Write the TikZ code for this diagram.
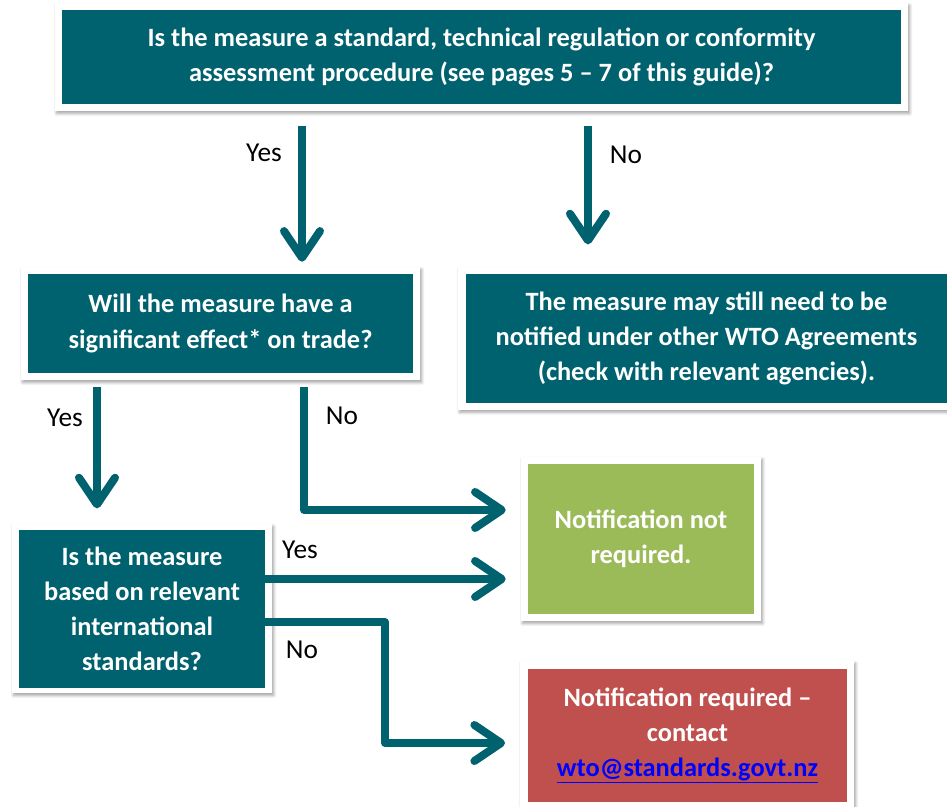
\documentclass[tikz,border=0pt]{standalone}
\usepackage{fontspec}
\setmainfont{Carlito}
\usetikzlibrary{arrows.meta,shadows.blur,backgrounds}
\definecolor{wtoteal}{RGB}{0,98,111}
\definecolor{wtogreen}{RGB}{155,187,89}
\definecolor{wtored}{RGB}{192,80,77}
\definecolor{wtolink}{RGB}{0,0,255}
\tikzset{
  box/.style 2 args={inner sep=0pt, align=center, text=white,
    font=\fontsize{19.8}{26.3}\selectfont\bfseries,
    minimum width=#1*0.75pt, minimum height=#2*0.75pt},
  tealbox/.style={fill=wtoteal},
  greenbox/.style={fill=wtogreen},
  redbox/.style={fill=wtored},
  lab/.style={inner sep=0pt, font=\fontsize{20.5}{24}\selectfont, text=black},
  frame/.style={fill=white, blur shadow={shadow xshift=1.2pt, shadow yshift=-1.8pt,
    shadow blur steps=6, shadow blur radius=2pt, shadow opacity=35}},
  conn/.style={draw=wtoteal, line width=6pt, line join=round,
    -{Straight Barb[length=20pt, width=27pt, round]}},
}
\begin{document}
\begin{tikzpicture}[x=0.75pt, y=-0.75pt]
\useasboundingbox (0,0) rectangle (947,807);

% boxes
\node[box={839}{94}, tealbox] (q1) at (481.5,57)
  {Is the measure a standard, technical regulation or conformity\\
   assessment procedure (see pages 5 – 7 of this guide)?};
\node[box={385}{99}, tealbox] (q2) at (220.5,323.5)
  {Will the measure have a\\ significant effect* on trade?};
\node[box={481}{129}, tealbox] (r1) at (706.5,338.5)
  {The measure may still need to be\\ notified under other WTO Agreements\\ (check with relevant agencies).};
\node[box={246}{158}, tealbox] (q3) at (142,609)
  {Is the measure\\ based on relevant\\ international\\ standards?};
\node[box={226}{150}, greenbox] (g) at (641,539)
  {Notification not\\ required.};
\node[box={319}{133}, redbox] (rq) at (687.5,735.5)
  {Notification required –\\ contact\\ \textcolor{wtolink}{\underline{wto@standards.govt.nz}}};

% white frames with shadows
\begin{scope}[on background layer]
  \foreach \n in {q1,q2,g} {
    \path[frame] ([shift={(-7,-7)}]\n.north west) rectangle ([shift={(7,7)}]\n.south east);
  }
  \path[frame] ([shift={(-7,-6)}]q3.north west) rectangle ([shift={(7,5)}]q3.south east);
  \path[frame] ([shift={(-8,-7)}]r1.north west) rectangle (r1.south east |- 0,410);
  \path[frame] ([shift={(-8,-8)}]rq.north west) rectangle ([shift={(7,5)}]rq.south east);
\end{scope}

% connector coordinates
\coordinate (xa) at (302,0);
\coordinate (xb) at (588,0);
\coordinate (xc) at (97,0);
\coordinate (xd) at (304,510);
\coordinate (ya) at (0,579);
\coordinate (yb) at (385,622);
\coordinate (yc) at (385,743);

% connectors
\draw[conn, shorten <=16.5pt, shorten >=9pt] (q1.south -| xa) -- (q2.north -| xa);
\draw[conn, shorten <=16.5pt, shorten >=22pt] (q1.south -| xb) -- (r1.north -| xb);
\draw[conn, shorten <=10.5pt, shorten >=16pt] (q2.south -| xc) -- (q3.north -| xc);
\draw[conn, shorten <=10.5pt, shorten >=16.5pt] (q2.south -| xd) -- (xd) -- (g.west |- xd);
\draw[conn, shorten >=16.5pt] (q3.east |- ya) -- (g.west |- ya);
\draw[conn, shorten >=17pt] (q3.east |- yb) -- (yb) -- (yc) -- (rq.west |- yc);

% labels
\node[lab] (l1) at (264,153) {Yes};
\node[lab] (l2) at (626,155) {No};
\node[lab] (l3) at (65,418) {Yes};
\node[lab] (l4) at (342,416) {No};
\node[lab] (l5) at (300,550) {Yes};
\node[lab] (l6) at (302,650) {No};
\end{tikzpicture}
\end{document}
